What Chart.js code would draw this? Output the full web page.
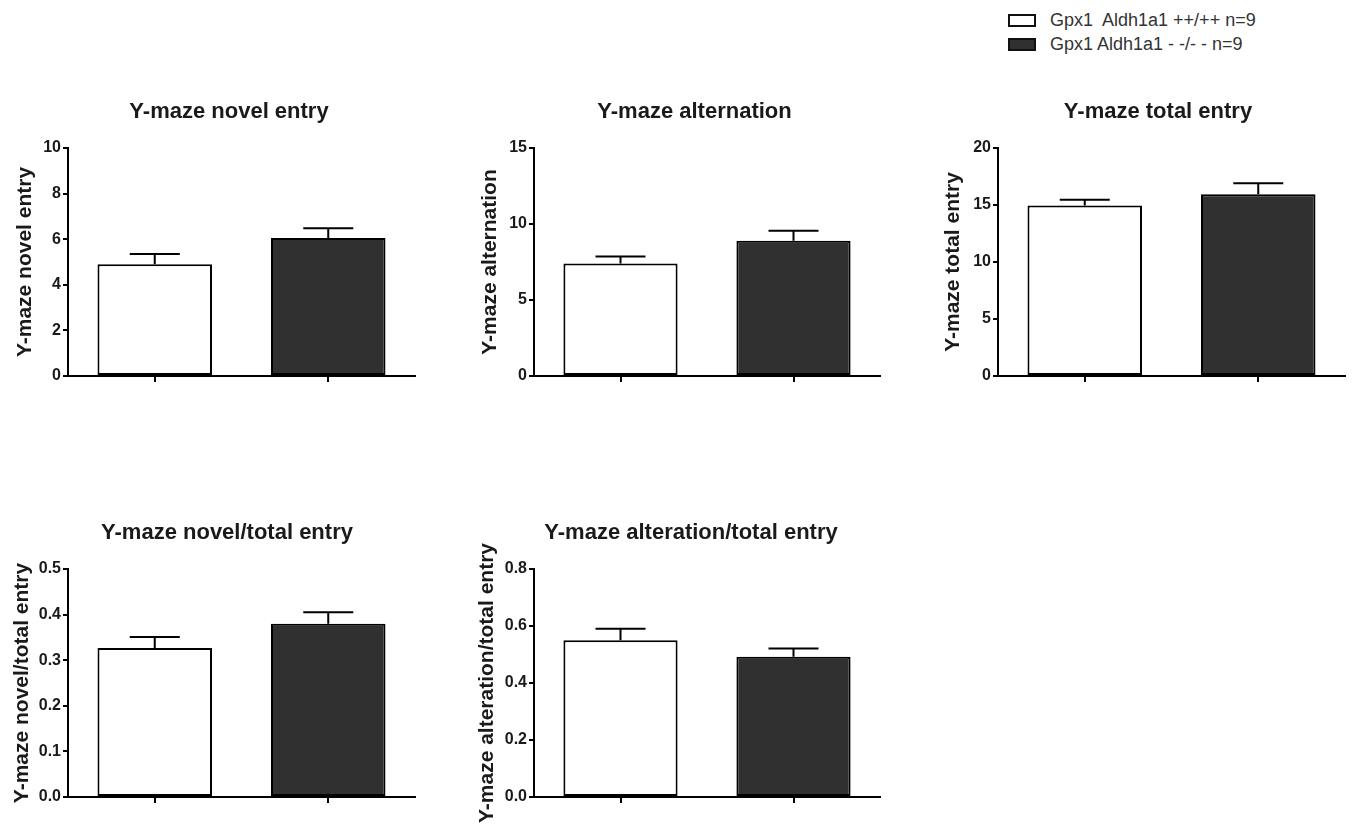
<!DOCTYPE html>
<html>
<head>
<meta charset="utf-8">
<script src="https://cdn.jsdelivr.net/npm/chart.js@4.4.1/dist/chart.umd.min.js"></script>
<style>
  body { margin: 0; background: #fff; width: 1352px; height: 833px; position: relative; overflow: hidden; font-family: "Liberation Sans", Arial, sans-serif; }
  .panel { position: absolute; }
  #legend { position: absolute; left: 1008px; top: 8px; font-size: 18px; color: #333; white-space: pre; }
  #legend div { height: 24px; display: flex; align-items: center; }
  #legend span.box { display: inline-block; width: 24px; height: 9px; border: 2px solid #111; margin-right: 14px; box-sizing: content-box; }
</style>
</head>
<body>
<div id="legend"></div>
<div class="panel" id="p1"><canvas id="c1"></canvas></div>
<div class="panel" id="p2"><canvas id="c2"></canvas></div>
<div class="panel" id="p3"><canvas id="c3"></canvas></div>
<div class="panel" id="p4"><canvas id="c4"></canvas></div>
<div class="panel" id="p5"><canvas id="c5"></canvas></div>
<script>
// группы
const groups = ['Gpx1  Aldh1a1 ++/++ n=9', 'Gpx1 Aldh1a1 - -/- - n=9'];
const groupColors = ['#ffffff', '#303030'];

const titles = [
  'Y-maze novel entry',
  'Y-maze alternation',
  'Y-maze total entry',
  'Y-maze novel/total entry',
  'Y-maze alteration/total entry'
];
const axisTitles = [
  'Y-maze novel entry',
  'Y-maze alternation',
  'Y-maze total entry',
  'Y-maze novel/total entry',
  'Y-maze alteration/total entry'
];

// значения (среднее и SEM)
const novelEntry = [4.9, 6.05];
const novelEntryErr = [0.45, 0.43];
const alternation = [7.4, 8.9];
const alternationErr = [0.46, 0.65];
const totalEntry = [14.95, 15.95];
const totalEntryErr = [0.52, 0.95];
const novelTotal = [0.327, 0.38];
const novelTotalErr = [0.024, 0.025];
const alterTotal = [0.55, 0.492];
const alterTotalErr = [0.04, 0.029];

const yMax = [10, 15, 20, 0.5, 0.8];
const yStep = [2, 5, 5, 0.1, 0.2];
const yDecimals = [0, 0, 0, 1, 1];

const values = [novelEntry, alternation, totalEntry, novelTotal, alterTotal];
const errors = [novelEntryErr, alternationErr, totalEntryErr, novelTotalErr, alterTotalErr];

// раскладка панелей: canvas слева, центр заголовка, правый край графика
const layout = [
  { left: 0,   top: 90,  h: 310, titleC: 229,   plotR: 415,  axisW: 68, xH: 24, yTitlePad: 12.4, titleTop: 8.8, titleBottom: 22.8 },
  { left: 440, top: 90,  h: 310, titleC: 694.5, plotR: 880,  axisW: 94, xH: 24, yTitlePad: 37.4, titleTop: 8.8, titleBottom: 22.8 },
  { left: 900, top: 90,  h: 310, titleC: 1158,  plotR: 1345, axisW: 98, xH: 24, yTitlePad: 40.4, titleTop: 8.8, titleBottom: 22.8 },
  { left: 0,   top: 510, h: 323, titleC: 227,   plotR: 415,  axisW: 68, xH: 36, yTitlePad: 9.4,  titleTop: 9.8, titleBottom: 22.8 },
  { left: 440, top: 510, h: 323, titleC: 691,   plotR: 880,  axisW: 94, xH: 36, yTitlePad: 34.4, titleTop: 9.8, titleBottom: 22.8 }
];

const FONT = "'Liberation Sans', Arial, sans-serif";
const INK = '#1a1a1a';

// легенда
document.getElementById('legend').innerHTML = groups.map((g, i) =>
  `<div><span class="box" style="background:${groupColors[i]}"></span>${g}</div>`
).join('');

// планки погрешностей (только вверх)
const errorBars = {
  id: 'errorBars',
  afterDatasetsDraw(chart) {
    const ctx = chart.ctx;
    const y = chart.scales.y;
    const meta = chart.getDatasetMeta(0);
    const ds = chart.data.datasets[0];
    ctx.save();
    ctx.strokeStyle = '#000';
    ctx.lineWidth = 2;
    meta.data.forEach((bar, i) => {
      const top = y.getPixelForValue(ds.data[i] + ds.errors[i]);
      const base = y.getPixelForValue(ds.data[i]);
      ctx.beginPath();
      ctx.moveTo(bar.x, base);
      ctx.lineTo(bar.x, top);
      ctx.moveTo(bar.x - 25, top);
      ctx.lineTo(bar.x + 25, top);
      ctx.stroke();
    });
    ctx.restore();
  }
};

function renderPanel(k) {
  const L = layout[k];
  const right = 2 * L.titleC - L.left;
  const wrap = document.getElementById('p' + (k + 1));
  wrap.style.left = L.left + 'px';
  wrap.style.top = L.top + 'px';
  wrap.style.width = (right - L.left) + 'px';
  wrap.style.height = L.h + 'px';

  new Chart(document.getElementById('c' + (k + 1)), {
    type: 'bar',
    data: {
      labels: groups,
      datasets: [{
        data: values[k],
        errors: errors[k],
        backgroundColor: groupColors,
        borderColor: '#000',
        borderWidth: 2,
        borderSkipped: false,
        barPercentage: 0.66,
        categoryPercentage: 1
      }]
    },
    options: {
      responsive: true,
      maintainAspectRatio: false,
      animation: false,
      plugins: {
        legend: { display: false },
        tooltip: { enabled: false },
        title: {
          display: true,
          text: titles[k],
          color: INK,
          font: { family: FONT, size: 22, weight: 'bold' },
          padding: { top: L.titleTop, bottom: L.titleBottom }
        }
      },
      scales: {
        x: {
          offset: true,
          afterFit: s => { s.height = L.xH; },
          border: { display: true, color: '#000', width: 2 },
          grid: { display: true, offset: false, drawOnChartArea: false, drawTicks: true, tickLength: 6, tickColor: '#000', lineWidth: 2 },
          ticks: { display: false }
        },
        y: {
          min: 0,
          max: yMax[k],
          afterFit: s => { s.width = L.axisW; },
          border: { display: true, color: '#000', width: 2 },
          grid: { display: true, drawOnChartArea: false, drawTicks: true, tickLength: 5, tickColor: '#000', lineWidth: 2 },
          ticks: {
            stepSize: yStep[k],
            padding: 2,
            color: INK,
            font: { family: FONT, size: 16, weight: 'bold' },
            callback: v => Number(v).toFixed(yDecimals[k])
          },
          title: {
            display: true,
            text: axisTitles[k],
            color: INK,
            font: { family: FONT, size: 21, weight: 'bold' },
            padding: { top: L.yTitlePad, bottom: 0 }
          }
        },
        // пустая ось справа: держит место, чтобы заголовок стоял по центру
        yPad: {
          position: 'right',
          display: true,
          afterFit: s => { s.width = right - L.plotR; },
          border: { display: false },
          grid: { display: false },
          ticks: { display: false }
        }
      }
    },
    plugins: [errorBars]
  });
}

for (let k = 0; k < 5; k++) renderPanel(k);
</script>
</body>
</html>
